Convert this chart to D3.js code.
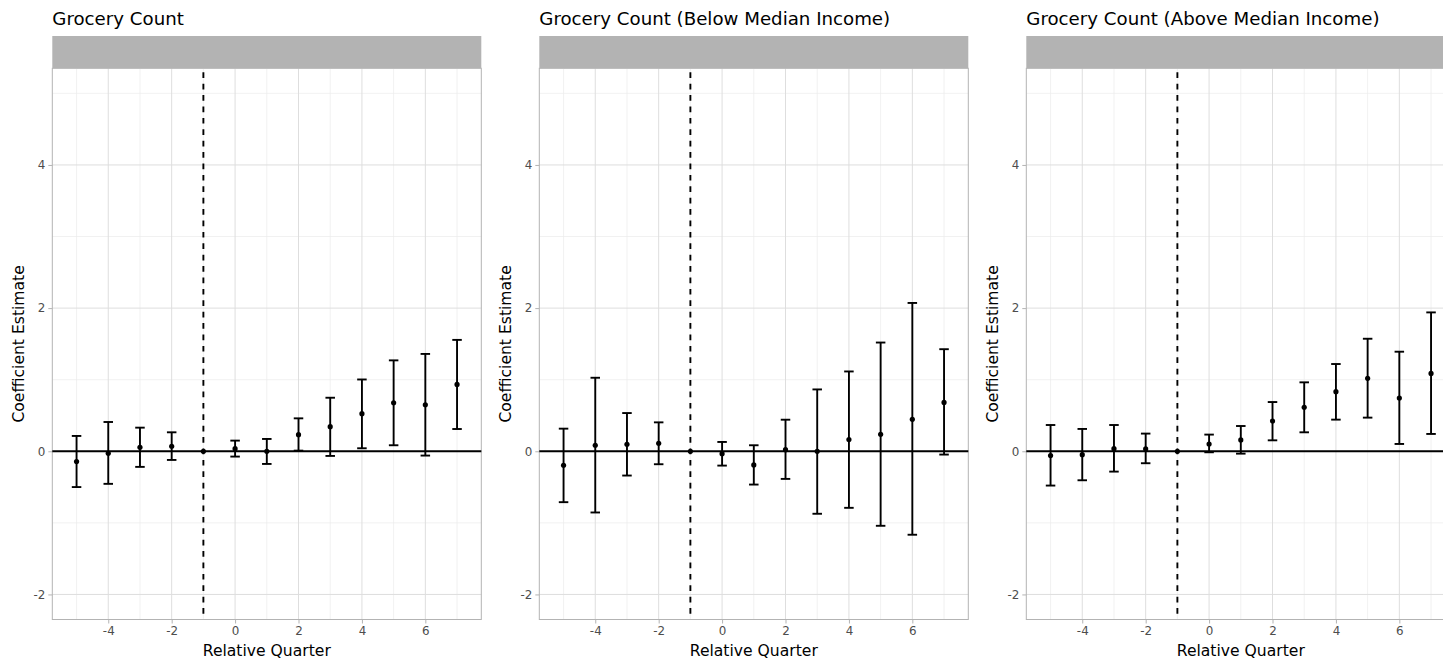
<!DOCTYPE html>
<html>
<head>
<meta charset="utf-8">
<script src="https://cdn.jsdelivr.net/npm/d3@7"></script>
<style>
  html, body { margin: 0; padding: 0; background: #fff; overflow: hidden; }
  svg { display: block; font-family: "DejaVu Sans", sans-serif; }
</style>
</head>
<body>
<svg id="chart" width="1443" height="662"></svg>
<script>
// Event-study coefficients by quarter relative to treatment (reference quarter = -1)
const quarters = [-5, -4, -3, -2, -1, 0, 1, 2, 3, 4, 5, 6, 7];

const titles = [
  "Grocery Count",
  "Grocery Count (Below Median Income)",
  "Grocery Count (Above Median Income)"
];

const estAll = [-0.144, -0.028, 0.056, 0.070, 0, 0.037, 0.000, 0.232, 0.344, 0.525, 0.678, 0.650, 0.934];
const lowAll = [-0.500, -0.455, -0.218, -0.121, 0, -0.074, -0.177, 0.009, -0.065, 0.042, 0.084, -0.060, 0.311];
const highAll = [0.214, 0.409, 0.330, 0.265, 0, 0.149, 0.172, 0.460, 0.748, 1.003, 1.270, 1.360, 1.556];

const estBelow = [-0.195, 0.084, 0.098, 0.111, 0, -0.033, -0.190, 0.023, 0.000, 0.163, 0.237, 0.446, 0.683];
const lowBelow = [-0.711, -0.855, -0.339, -0.181, 0, -0.200, -0.465, -0.386, -0.873, -0.790, -1.041, -1.166, -0.046];
const highBelow = [0.316, 1.027, 0.534, 0.404, 0, 0.130, 0.084, 0.441, 0.864, 1.115, 1.519, 2.072, 1.426];

const estAbove = [-0.060, -0.047, 0.037, 0.033, 0, 0.102, 0.158, 0.423, 0.614, 0.833, 1.019, 0.744, 1.088];
const lowAbove = [-0.479, -0.405, -0.284, -0.167, 0, -0.014, -0.033, 0.153, 0.265, 0.442, 0.470, 0.102, 0.242];
const highAbove = [0.367, 0.312, 0.367, 0.247, 0, 0.233, 0.353, 0.688, 0.963, 1.219, 1.572, 1.391, 1.940];

const xTicks = [-4, -2, 0, 2, 4, 6];
const xMinor = [-5, -3, -1, 1, 3, 5, 7];
const yTicks = [-2, 0, 2, 4];
const yMinor = [-1, 1, 3, 5];

const treatLine = -1;
const capHalf = 0.15;   // half-width of error-bar caps, in quarters

const series = [
  { title: titles[0], est: estAll, low: lowAll, high: highAll },
  { title: titles[1], est: estBelow, low: lowBelow, high: highBelow },
  { title: titles[2], est: estAbove, low: lowAbove, high: highAbove }
];

const svg = d3.select("#chart");

const panelW = 429;
const panelStep = 487;
const panelLeft0 = 52.3;
const stripTop = 36, stripBottom = 68.3, panelBottom = 619.5;

series.forEach((s, i) => {
  const left = panelLeft0 + i * panelStep;
  const right = left + panelW;

  const x = d3.scaleLinear().domain([-5.765, 7.765]).range([left, right]);
  const y = d3.scaleLinear().domain([-2.35, 5.35]).range([panelBottom, stripBottom]);

  const g = svg.append("g");

  // title
  g.append("text")
    .attr("x", left)
    .attr("y", 24.8)
    .attr("font-size", 18.2)
    .attr("fill", "#000")
    .text(s.title);

  // empty strip
  g.append("rect")
    .attr("x", left).attr("y", stripTop)
    .attr("width", panelW).attr("height", stripBottom - stripTop)
    .attr("fill", "#B3B3B3");

  // grid
  const grid = g.append("g");
  grid.selectAll(".xmin").data(xMinor).join("line")
    .attr("x1", d => x(d)).attr("x2", d => x(d))
    .attr("y1", stripBottom).attr("y2", panelBottom)
    .attr("stroke", "#EBEBEB").attr("stroke-width", 0.7);
  grid.selectAll(".ymin").data(yMinor).join("line")
    .attr("x1", left).attr("x2", right)
    .attr("y1", d => y(d)).attr("y2", d => y(d))
    .attr("stroke", "#EBEBEB").attr("stroke-width", 0.7);
  grid.selectAll(".xmaj").data(xTicks).join("line")
    .attr("x1", d => x(d)).attr("x2", d => x(d))
    .attr("y1", stripBottom).attr("y2", panelBottom)
    .attr("stroke", "#DEDEDE").attr("stroke-width", 1);
  grid.selectAll(".ymaj").data(yTicks).join("line")
    .attr("x1", left).attr("x2", right)
    .attr("y1", d => y(d)).attr("y2", d => y(d))
    .attr("stroke", "#DEDEDE").attr("stroke-width", 1);

  // panel border
  g.append("rect")
    .attr("x", left).attr("y", stripBottom)
    .attr("width", panelW).attr("height", panelBottom - stripBottom)
    .attr("fill", "none").attr("stroke", "#B3B3B3").attr("stroke-width", 1);

  // axes
  const xAxis = d3.axisBottom(x).tickValues(xTicks).tickSize(4).tickPadding(3)
    .tickFormat(d => d < 0 ? "-" + Math.abs(d) : String(d));
  const yAxis = d3.axisLeft(y).tickValues(yTicks).tickSize(4).tickPadding(3)
    .tickFormat(d => d < 0 ? "-" + Math.abs(d) : String(d));

  const gx = g.append("g").attr("transform", `translate(0,${panelBottom})`).call(xAxis);
  const gy = g.append("g").attr("transform", `translate(${left},0)`).call(yAxis);
  [gx, gy].forEach(a => {
    a.select(".domain").remove();
    a.selectAll(".tick line").attr("stroke", "#B3B3B3").attr("stroke-width", 1);
    a.selectAll(".tick text").attr("fill", "#4D4D4D").attr("font-size", 11.9)
      .attr("font-family", "DejaVu Sans, sans-serif");
  });

  // axis titles
  g.append("text")
    .attr("x", (left + right) / 2).attr("y", 655.5)
    .attr("text-anchor", "middle").attr("font-size", 15.6).attr("fill", "#000")
    .text("Relative Quarter");
  g.append("text")
    .attr("transform", `translate(${left - 28.3},${(stripBottom + panelBottom) / 2}) rotate(-90)`)
    .attr("text-anchor", "middle").attr("font-size", 15.6).attr("fill", "#000")
    .text("Coefficient Estimate");

  // reference lines
  g.append("line")
    .attr("x1", left).attr("x2", right)
    .attr("y1", y(0)).attr("y2", y(0))
    .attr("stroke", "#000").attr("stroke-width", 1.9);
  g.append("line")
    .attr("x1", x(treatLine)).attr("x2", x(treatLine))
    .attr("y1", stripBottom).attr("y2", panelBottom)
    .attr("stroke", "#000").attr("stroke-width", 1.9)
    .attr("stroke-dasharray", "5.7,5.7").attr("stroke-dashoffset", -4);

  // error bars and point estimates
  const rows = quarters.map((q, k) => ({ q, est: s.est[k], low: s.low[k], high: s.high[k] }));
  const eb = g.append("g").attr("stroke", "#000").attr("stroke-width", 1.9).attr("fill", "none");
  rows.forEach(r => {
    if (r.low === r.high) return;
    eb.append("line")
      .attr("x1", x(r.q)).attr("x2", x(r.q))
      .attr("y1", y(r.low)).attr("y2", y(r.high));
    eb.append("line")
      .attr("x1", x(r.q - capHalf)).attr("x2", x(r.q + capHalf))
      .attr("y1", y(r.low)).attr("y2", y(r.low));
    eb.append("line")
      .attr("x1", x(r.q - capHalf)).attr("x2", x(r.q + capHalf))
      .attr("y1", y(r.high)).attr("y2", y(r.high));
  });
  g.append("g").selectAll("circle").data(rows).join("circle")
    .attr("cx", d => x(d.q)).attr("cy", d => y(d.est))
    .attr("r", 2.6).attr("fill", "#000");
});
</script>
</body>
</html>
